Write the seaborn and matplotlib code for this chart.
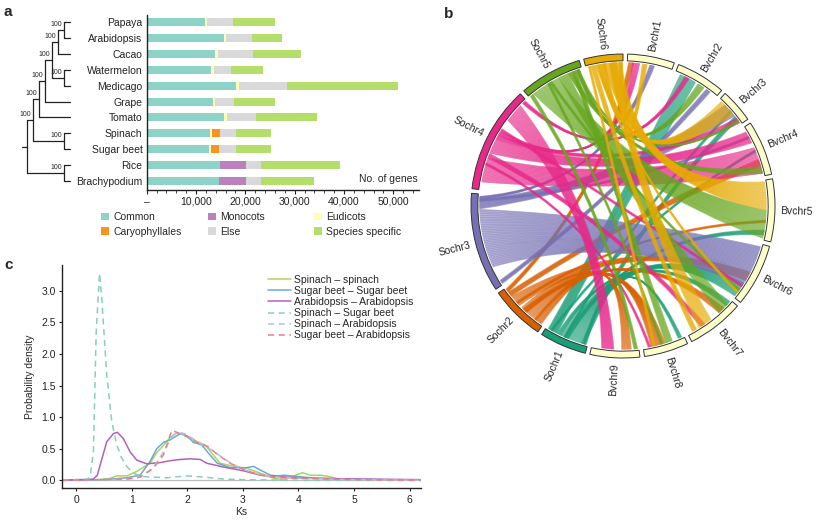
"""
Figura: genes compartidos, sintenia espinaca/remolacha y distribucion Ks
"""
import numpy as np
import pandas as pd
import matplotlib
matplotlib.use("Agg")
import matplotlib.pyplot as plt
from matplotlib.path import Path
from matplotlib.patches import PathPatch, Wedge, Patch
from matplotlib.ticker import MultipleLocator, FuncFormatter
import seaborn as sns

# ---------------- panel a: familias de genes ----------------
species = ["Papaya", "Arabidopsis", "Cacao", "Watermelon", "Medicago", "Grape",
           "Tomato", "Spinach", "Sugar beet", "Rice", "Brachypodium"]
common   = [11800, 15700, 13900, 13100, 18200, 13400, 15700, 12850, 12650, 14850, 14600]
monocots = [0, 0, 0, 0, 0, 0, 0, 0, 0, 5300, 5500]
eudicots = [500, 450, 500, 450, 600, 450, 600, 400, 400, 0, 0]
caryo    = [0, 0, 0, 0, 0, 0, 0, 1600, 1600, 0, 0]
else_    = [5100, 5150, 7100, 3500, 9700, 3850, 5800, 3250, 3500, 3100, 3000]
specific = [8650, 6200, 9700, 6500, 22400, 8300, 12400, 7000, 7100, 16000, 10900]

# arbol (topologia) y soporte bootstrap
core = ((("Papaya", "Arabidopsis"), "Cacao"), ("Watermelon", "Medicago"))
tree = ((((core, "Grape"), "Tomato"), ("Spinach", "Sugar beet")), ("Rice", "Brachypodium"))
bootstrap = "100"

# ---------------- panel b: circos ----------------
chrom_names = ["Bvchr1", "Bvchr2", "Bvchr3", "Bvchr4", "Bvchr5", "Bvchr6", "Bvchr7",
               "Bvchr8", "Bvchr9", "Sochr1", "Sochr2", "Sochr3", "Sochr4", "Sochr5", "Sochr6"]
chrom_len = [18, 19, 13, 21, 24, 24, 22, 17, 19, 18, 21, 38, 41, 24, 15]
so_colors = {"Sochr1": "#1b9e77", "Sochr2": "#d95f02", "Sochr3": "#7570b3",
             "Sochr4": "#e7298a", "Sochr5": "#66a61e", "Sochr6": "#e6ab02"}

# (cromosoma espinaca, desde, hasta, cromosoma remolacha, desde, hasta)
links = [
    ("Sochr1", 3, 11, "Bvchr6", 17, 23.5),
    ("Sochr1", 11, 13, "Bvchr7", 0.5, 3),
    ("Sochr1", 13, 17, "Bvchr2", 2, 9),
    ("Sochr1", 8, 10, "Bvchr5", 20, 22),
    ("Sochr1", 1, 3, "Bvchr3", 9, 11),
    ("Sochr1", 0.5, 2, "Bvchr8", 1, 2.5),
    ("Sochr1", 15, 16, "Bvchr4", 10, 11),
    ("Sochr1", 9, 10, "Bvchr3", 6, 7),
    ("Sochr2", 3, 11, "Bvchr8", 8, 14),
    ("Sochr2", 0.5, 4, "Bvchr9", 3, 7),
    ("Sochr2", 12, 17, "Bvchr6", 12, 16),
    ("Sochr2", 17, 19, "Bvchr4", 14, 17),
    ("Sochr2", 19, 20.5, "Bvchr1", 0.5, 2.5),
    ("Sochr2", 8, 10, "Bvchr7", 4, 7),
    ("Sochr2", 13, 14, "Bvchr5", 16, 17),
    ("Sochr3", 8, 32, "Bvchr6", 1, 18),
    ("Sochr3", 32, 36, "Bvchr3", 3, 9),
    ("Sochr3", 36, 37, "Bvchr1", 9, 11),
    ("Sochr3", 0.5, 2, "Bvchr2", 14, 16),
    ("Sochr3", 35, 36, "Bvchr4", 4, 5),
    ("Sochr4", 3, 13, "Bvchr4", 9, 20),
    ("Sochr4", 30, 38, "Bvchr9", 10, 15),
    ("Sochr4", 15, 21, "Bvchr4", 2, 7),
    ("Sochr4", 21, 23, "Bvchr3", 10, 12.5),
    ("Sochr4", 23, 25, "Bvchr1", 2, 5),
    ("Sochr4", 13, 15, "Bvchr7", 14, 16),
    ("Sochr4", 39, 40.5, "Bvchr2", 4, 6),
    ("Sochr4", 25, 26, "Bvchr6", 18, 19),
    ("Sochr4", 10, 11, "Bvchr8", 14, 15),
    ("Sochr5", 2, 14, "Bvchr5", 12, 23.5),
    ("Sochr5", 14, 18, "Bvchr7", 2, 7),
    ("Sochr5", 18, 20, "Bvchr4", 17, 20),
    ("Sochr5", 20, 21.5, "Bvchr8", 5, 8),
    ("Sochr5", 21.5, 23, "Bvchr2", 10, 13),
    ("Sochr5", 0.5, 2, "Bvchr9", 0.5, 2),
    ("Sochr5", 9, 10, "Bvchr8", 9, 10),
    ("Sochr5", 10, 11, "Bvchr6", 20, 21),
    ("Sochr5", 22, 23, "Bvchr3", 11, 12),
    ("Sochr6", 7, 14.5, "Bvchr5", 0.5, 12),
    ("Sochr6", 9.5, 12.5, "Bvchr7", 11, 17),
    ("Sochr6", 5, 8, "Bvchr3", 1, 8),
    ("Sochr6", 2, 4, "Bvchr7", 18, 20),
    ("Sochr6", 13.5, 14.8, "Bvchr1", 6, 8),
    ("Sochr6", 4, 5, "Bvchr6", 21, 22),
    ("Sochr6", 1, 2, "Bvchr8", 12, 13),
]

# ---------------- panel c: densidad Ks ----------------
pairs = ["Spinach – spinach", "Sugar beet – Sugar beet", "Arabidopsis – Arabidopsis",
         "Spinach – Sugar beet", "Spinach – Arabidopsis", "Sugar beet – Arabidopsis"]
spsp_x = [-0.25, 0.4, 0.61, 0.73, 0.91, 1.09, 1.33, 1.45, 1.57, 1.69, 1.81, 1.99, 2.23, 2.32,
          2.44, 2.59, 2.89, 3.07, 3.32, 3.56, 3.74, 3.92, 4.07, 4.22, 4.40, 4.55, 4.70, 5.06, 6.2]
spsp_y = [0.0, 0.01, 0.03, 0.07, 0.07, 0.14, 0.27, 0.44, 0.55, 0.68, 0.75, 0.70, 0.59, 0.56,
          0.43, 0.27, 0.21, 0.19, 0.11, 0.03, 0.01, 0.07, 0.12, 0.08, 0.08, 0.06, 0.02, 0.01, 0.0]
sbsb_x = [-0.25, 0.5, 0.91, 1.15, 1.33, 1.45, 1.57, 1.69, 1.80, 1.90, 2.0, 2.11, 2.26, 2.38,
          2.54, 2.77, 3.07, 3.19, 3.34, 3.50, 3.62, 3.74, 3.98, 4.34, 4.94, 6.2]
sbsb_y = [0.0, 0.01, 0.04, 0.08, 0.30, 0.50, 0.60, 0.64, 0.70, 0.75, 0.70, 0.60, 0.56, 0.43,
          0.27, 0.20, 0.20, 0.22, 0.15, 0.08, 0.07, 0.08, 0.06, 0.03, 0.02, 0.0]
arar_x = [-0.25, 0.0, 0.2, 0.31, 0.38, 0.45, 0.55, 0.67, 0.74, 0.85, 0.97, 1.09, 1.27, 1.51,
          1.69, 1.87, 2.05, 2.23, 2.35, 2.65, 3.01, 3.32, 3.62, 3.98, 4.46, 5.06, 6.2]
arar_y = [0.0, 0.01, 0.01, 0.02, 0.08, 0.30, 0.61, 0.74, 0.76, 0.66, 0.45, 0.32, 0.26, 0.28,
          0.31, 0.33, 0.34, 0.33, 0.27, 0.21, 0.15, 0.08, 0.06, 0.04, 0.03, 0.02, 0.01]
spsb_x = [-0.25, 0.0, 0.2, 0.25, 0.31, 0.36, 0.42, 0.46, 0.55, 0.64, 0.73, 0.82, 0.91, 1.03,
          1.18, 1.39, 1.63, 2.0, 2.3, 2.65, 3.0, 4.0, 6.2]
spsb_y = [0.0, 0.01, 0.02, 0.05, 0.45, 2.35, 3.28, 2.88, 1.67, 0.93, 0.56, 0.35, 0.22, 0.11,
          0.06, 0.05, 0.04, 0.07, 0.05, 0.02, 0.01, 0.0, 0.0]
spar_x = [-0.25, 0.5, 0.91, 1.15, 1.39, 1.57, 1.75, 1.95, 2.17, 2.4, 2.6, 2.8, 3.05, 3.35,
          3.65, 4.05, 5.0, 6.2]
spar_y = [0.0, 0.01, 0.02, 0.05, 0.20, 0.45, 0.72, 0.74, 0.62, 0.50, 0.38, 0.26, 0.16, 0.08,
          0.05, 0.03, 0.01, 0.0]
sbar_x = [-0.25, 0.5, 0.91, 1.15, 1.39, 1.57, 1.72, 1.93, 2.17, 2.38, 2.54, 2.77, 3.01, 3.32,
          3.62, 4.04, 5.0, 6.2]
sbar_y = [0.0, 0.01, 0.02, 0.05, 0.19, 0.40, 0.79, 0.72, 0.60, 0.53, 0.41, 0.27, 0.17, 0.08,
          0.04, 0.03, 0.01, 0.0]

sns.set_theme(style="ticks")
plt.rcParams["font.family"] = ["Liberation Sans", "DejaVu Sans"]
plt.rcParams["font.size"] = 7.5
plt.rcParams["axes.edgecolor"] = "#222222"
plt.rcParams["xtick.color"] = "#222222"
plt.rcParams["ytick.color"] = "#222222"

fig = plt.figure(figsize=(8.19, 5.22), dpi=100)
W, H = 819.0, 522.0


def rect(x0, y0, x1, y1):
    """Caja en pixeles (origen arriba-izquierda) -> fraccion de figura."""
    return [x0 / W, 1 - y1 / H, (x1 - x0) / W, (y1 - y0) / H]


# ======== panel a ========
ax_a = fig.add_axes(rect(146.7, 15, 419, 190))
df_a = pd.DataFrame({"especie": species, "Common": common, "Monocots": monocots,
                     "Eudicots": eudicots, "Caryophyllales": caryo, "Else": else_,
                     "Species specific": specific})
capas = ["Common", "Monocots", "Eudicots", "Caryophyllales", "Else", "Species specific"]
colores = {"Common": "#8dd3c7", "Monocots": "#bc80bd", "Eudicots": "#ffffb3",
           "Caryophyllales": "#f7931e", "Else": "#d9d9d9", "Species specific": "#b3de69"}
acum = df_a[capas].cumsum(axis=1)
for capa in reversed(capas):
    sns.barplot(x=acum[capa], y=df_a["especie"], orient="h", color=colores[capa],
                saturation=1, width=0.5, linewidth=0, ax=ax_a)
ax_a.set_xlim(0, 55200)
ax_a.set_ylim(10.57, -0.45)
ax_a.set_xlabel("")
ax_a.set_ylabel("")
ax_a.xaxis.set_major_locator(MultipleLocator(10000))
ax_a.xaxis.set_minor_locator(MultipleLocator(2000))
ax_a.xaxis.set_major_formatter(FuncFormatter(lambda v, p: "–" if v == 0 else f"{int(v):,}"))
ax_a.tick_params(axis="x", which="major", length=3, width=0.8, labelsize=7.5, pad=2)
ax_a.tick_params(axis="x", which="minor", length=2.5, width=0.6)
ax_a.tick_params(axis="y", length=0, labelsize=7.5, pad=3)
sns.despine(ax=ax_a)
for s in ("left", "bottom"):
    ax_a.spines[s].set_linewidth(1.0)
ax_a.text(0.995, 0.035, "No. of genes", transform=ax_a.transAxes, ha="right", va="bottom",
          fontsize=7.5)

# arbol
ax_t = fig.add_axes(rect(15, 15, 72, 190))
ypos = {s: i for i, s in enumerate(species)}


def dibujar_arbol(nodo, nivel=0):
    if isinstance(nodo, str):
        return 0, ypos[nodo]
    hijos = [dibujar_arbol(h, nivel + 1) for h in nodo]
    alto = max(h[0] for h in hijos) + 1
    ys = [h[1] for h in hijos]
    y = float(np.mean(ys))
    ax_t.plot([-alto, -alto], [min(ys), max(ys)], color="#222222", lw=0.9)
    for ha_, hy in hijos:
        ax_t.plot([-alto, -ha_], [hy, hy], color="#222222", lw=0.9)
    if nivel > 0:
        ax_t.text(-alto - 0.3, y - 0.12, bootstrap, ha="right", va="bottom", fontsize=5)
    else:
        ax_t.plot([-alto - 0.8, -alto], [y, y], color="#222222", lw=0.9)
    return alto, y


dibujar_arbol(tree)
ax_t.set_xlim(-8.94, 0.33)
ax_t.set_ylim(10.57, -0.45)
ax_t.axis("off")

# leyenda panel a (tres columnas fijas)
cols_leg = [["Common", "Caryophyllales"], ["Monocots", "Else"], ["Eudicots", "Species specific"]]
for xpx, grupo in zip([101, 208, 314], cols_leg):
    manejadores = [Patch(facecolor=colores[g], edgecolor="none", label=g) for g in grupo]
    fig.legend(handles=manejadores, loc="upper left", bbox_to_anchor=(xpx / W, 1 - 212 / H),
               frameon=False, fontsize=7.5, handlelength=0.75, handleheight=0.75,
               handletextpad=0.45, labelspacing=0.45, borderpad=0, borderaxespad=0)

# ======== panel b ========
ax_b = fig.add_axes(rect(433, 16, 813, 396))
gap = (360.0 - sum(chrom_len)) / len(chrom_len)
inicio = {}
pos = gap
for nombre, largo in zip(chrom_names, chrom_len):
    inicio[nombre] = pos
    pos += largo + gap

R_LINK = 0.945


def polar(r, ang):
    t = np.deg2rad(ang)
    return np.array([r * np.sin(t), r * np.cos(t)])


def control(pa, pb):
    # cuerdas largas se curvan menos hacia el centro
    d = np.linalg.norm(pa - pb) / (2 * R_LINK)
    return 0.45 * d ** 2 * (pa + pb) / 2


def cinta(a1, a2, b1, b2, color):
    # relleno suave de la banda
    arc_a = np.linspace(a1, a2, 24)
    arc_b = np.linspace(b1, b2, 24)
    verts = [polar(R_LINK, a) for a in arc_a]
    codes = [Path.MOVETO] + [Path.LINETO] * (len(arc_a) - 1)
    verts += [control(polar(R_LINK, a2), polar(R_LINK, b1)), polar(R_LINK, b1)]
    codes += [Path.CURVE3, Path.CURVE3]
    verts += [polar(R_LINK, b) for b in arc_b[1:]]
    codes += [Path.LINETO] * (len(arc_b) - 1)
    verts += [control(polar(R_LINK, b2), polar(R_LINK, a1)), polar(R_LINK, a1),
              polar(R_LINK, a1)]
    codes += [Path.CURVE3, Path.CURVE3, Path.CLOSEPOLY]
    ax_b.add_patch(PathPatch(Path(verts, codes), facecolor=color, edgecolor="none",
                             alpha=0.14))
    # hebras dentro de la banda
    n = int(round(max(a2 - a1, b2 - b1) * 1.3)) + 2
    for f in (np.arange(n) + 0.5) / n:
        pa = polar(R_LINK, a1 + f * (a2 - a1))
        pb = polar(R_LINK, b2 - f * (b2 - b1))
        p = Path([pa, control(pa, pb), pb], [Path.MOVETO, Path.CURVE3, Path.CURVE3])
        ax_b.add_patch(PathPatch(p, facecolor="none", edgecolor=color, lw=1.2, alpha=0.6))


for so, s0, s1, bv, t0, t1 in links:
    cinta(inicio[so] + s0, inicio[so] + s1, inicio[bv] + t0, inicio[bv] + t1, so_colors[so])

for nombre, largo in zip(chrom_names, chrom_len):
    a0 = inicio[nombre]
    a1 = a0 + largo
    cara = so_colors.get(nombre, "#ffffcc")
    ax_b.add_patch(Wedge((0, 0), 1.0, 90 - a1, 90 - a0, width=0.045, facecolor=cara,
                         edgecolor="#333333", lw=0.7))
    medio = (a0 + a1) / 2
    x, y = polar(1.035, medio)
    if medio < 180:
        rot, ha = 90 - medio, "left"
    else:
        rot, ha = 270 - medio, "right"
    ax_b.text(x, y, nombre, rotation=rot, ha=ha, va="center", rotation_mode="anchor",
              fontsize=7.5)

ax_b.set_xlim(-1.25, 1.25)
ax_b.set_ylim(-1.25, 1.25)
ax_b.set_aspect("equal")
ax_b.axis("off")

# ======== panel c ========
ax_c = fig.add_axes(rect(62.3, 265, 420.7, 488.3))
series = [(pairs[0], spsp_x, spsp_y), (pairs[1], sbsb_x, sbsb_y), (pairs[2], arar_x, arar_y),
          (pairs[3], spsb_x, spsb_y), (pairs[4], spar_x, spar_y), (pairs[5], sbar_x, sbar_y)]
df_c = pd.concat([pd.DataFrame({"par": n, "Ks": x, "densidad": y}) for n, x, y in series],
                 ignore_index=True)
paleta = {pairs[0]: "#a9d55f", pairs[1]: "#6fa9d2", pairs[2]: "#b45fbd",
          pairs[3]: "#85cfbb", pairs[4]: "#b3c0dc", pairs[5]: "#ef7f7f"}
guiones = {pairs[0]: "", pairs[1]: "", pairs[2]: "",
           pairs[3]: (4, 3), pairs[4]: (4, 3), pairs[5]: (4, 3)}
ax_c.axhline(0, color="#bdbdbd", lw=0.9, zorder=0)
sns.lineplot(data=df_c, x="Ks", y="densidad", hue="par", style="par", hue_order=pairs,
             style_order=pairs, palette=paleta, dashes=guiones, sort=False,
             estimator=None, lw=1.1, ax=ax_c)
ax_c.set_xlim(-0.25, 6.2)
ax_c.set_ylim(-0.127, 3.41)
ax_c.set_xticks(range(7))
ax_c.set_yticks([0, 0.5, 1.0, 1.5, 2.0, 2.5, 3.0])
ax_c.yaxis.set_major_formatter(FuncFormatter(lambda v, p: f"{v:.1f}"))
ax_c.tick_params(length=2.5, width=0.8, labelsize=7.5, pad=2)
ax_c.set_xlabel("Ks", fontsize=7.5, labelpad=2)
ax_c.set_ylabel("Probability density", fontsize=7.5, labelpad=5)
sns.despine(ax=ax_c)
for s in ("left", "bottom"):
    ax_c.spines[s].set_linewidth(1.0)
h, l = ax_c.get_legend_handles_labels()
ax_c.legend(h, l, loc="upper left", bbox_to_anchor=(0.575, 0.955), frameon=False,
            fontsize=7.5, handlelength=2.2, handletextpad=0.3, labelspacing=0.1,
            borderpad=0, borderaxespad=0)

# letras de panel
for letra, xpx, ypx in [("a", 4, 12), ("b", 444, 14), ("c", 4, 265)]:
    fig.text(xpx / W, 1 - ypx / H, letra, fontsize=11, fontweight="bold", va="center")

fig.savefig("out.png", dpi=100)
